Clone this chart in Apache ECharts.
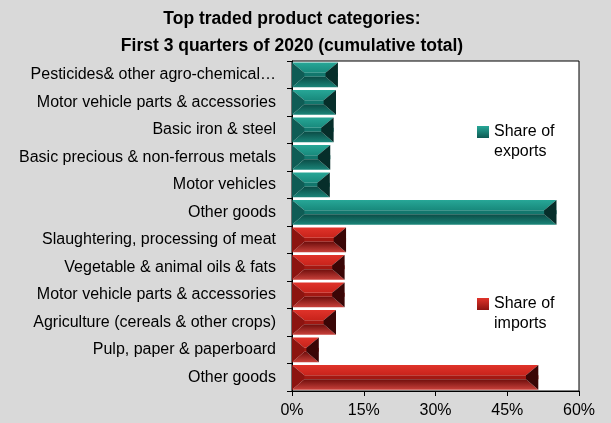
<!DOCTYPE html>
<html>
<head>
<meta charset="utf-8">
<script src="https://cdn.jsdelivr.net/npm/echarts@6/dist/echarts.min.js"></script>
<style>
  html, body { margin: 0; padding: 0; background: #d9d9d9; }
  #chart { width: 611px; height: 423px; }
</style>
</head>
<body>
<div id="chart"></div>
<script>
const categories = [
  'Pesticides& other agro-chemical…',
  'Motor vehicle parts & accessories',
  'Basic iron & steel',
  'Basic precious & non-ferrous metals',
  'Motor vehicles',
  'Other goods',
  'Slaughtering, processing of meat',
  'Vegetable & animal oils & fats',
  'Motor vehicle parts & accessories',
  'Agriculture (cereals & other crops)',
  'Pulp, paper & paperboard',
  'Other goods'
];
// first six rows are exports, last six are imports (percent share)
const exportShare = [9.6, 9.2, 8.7, 8.0, 7.9, 55.3];
const importShare = [11.3, 11.0, 11.0, 9.2, 5.6, 51.5];
const xTicks = [0, 15, 30, 45, 60];

const FONT = '"Liberation Sans", Arial, sans-serif';

const teal = { top: ['#27a797', '#18897c'], mid: '#12776d', bottom: ['#0b4c46', '#1a8478'], left: '#0f5c55', right: '#062e2a' };
const red = { top: ['#e0332a', '#c8231b'], mid: '#a31812', bottom: ['#6e0e0c', '#c8403a'], left: '#8c1410', right: '#3a0606' };

const vgrad = (a, b) => new echarts.graphic.LinearGradient(0, 0, 0, 1, [{ offset: 0, color: a }, { offset: 1, color: b }]);

// bevelled bar, built from axis coordinates
const bevelBar = (c) => (params, api) => {
  const cat = api.value(0);
  const start = api.coord([0, cat]);
  const end = api.coord([api.value(1), cat]);
  const h = api.size([0, 1])[1] * 0.9;
  const x0 = start[0], x1 = end[0];
  const y0 = start[1] - h / 2, y1 = start[1] + h / 2;
  const dy = h * 0.42;
  const dx = Math.min(h * 0.5, (x1 - x0) / 2);
  const poly = (points, fill) => ({ type: 'polygon', shape: { points }, style: { fill } });
  return {
    type: 'group',
    children: [
      poly([[x0, y0 + dy], [x1, y0 + dy], [x1, y1 - dy], [x0, y1 - dy]], c.mid),
      poly([[x0, y0], [x1, y0], [x1 - dx, y0 + dy], [x0 + dx, y0 + dy]], vgrad(c.top[0], c.top[1])),
      poly([[x0 + dx, y1 - dy], [x1 - dx, y1 - dy], [x1, y1], [x0, y1]], vgrad(c.bottom[0], c.bottom[1])),
      poly([[x0, y0], [x0 + dx, y0 + dy], [x0 + dx, y1 - dy], [x0, y1]], c.left),
      poly([[x1, y0], [x1, y1], [x1 - dx, y1 - dy], [x1 - dx, y0 + dy]], c.right)
    ]
  };
};

const chart = echarts.init(document.getElementById('chart'));

// leading blank line keeps the marker level with the first text line
const legendBase = {
  orient: 'vertical',
  left: 477,
  itemWidth: 12,
  itemHeight: 12,
  icon: 'rect',
  padding: 0,
  selectedMode: false,
  formatter: (name) => '\n' + name,
  textStyle: { fontFamily: FONT, fontSize: 16, color: '#000', lineHeight: 20 }
};

chart.setOption({
  backgroundColor: '#d9d9d9',
  animation: false,
  title: {
    text: 'Top traded product categories:\nFirst 3 quarters of 2020 (cumulative total)',
    left: 292,
    textAlign: 'center',
    top: 6,
    padding: 0,
    textStyle: { fontFamily: FONT, fontSize: 17.5, fontWeight: 'bold', color: '#000', lineHeight: 27 }
  },
  legend: [
    Object.assign({}, legendBase, { top: 102, data: [{ name: 'Share of\nexports', itemStyle: { color: vgrad('#27a797', '#0e5a53') } }] }),
    Object.assign({}, legendBase, { top: 274, data: [{ name: 'Share of\nimports', itemStyle: { color: vgrad('#e0332a', '#8c1410') } }] })
  ],
  grid: {
    left: 292, right: 32, top: 61, bottom: 32,
    show: true, backgroundColor: '#fff', borderColor: '#000', borderWidth: 1
  },
  xAxis: {
    type: 'value',
    min: xTicks[0],
    max: xTicks[xTicks.length - 1],
    interval: 15,
    axisLine: { show: true, lineStyle: { color: '#000' } },
    axisTick: { show: true, length: 5, lineStyle: { color: '#000' } },
    splitLine: { show: false },
    axisLabel: { formatter: '{value}%', fontFamily: FONT, fontSize: 16, color: '#000', margin: 12 }
  },
  yAxis: {
    type: 'category',
    inverse: true,
    data: categories,
    axisLine: { show: true, lineStyle: { color: '#000' } },
    axisTick: { show: true, length: 5, lineStyle: { color: '#000' } },
    axisLabel: { fontFamily: FONT, fontSize: 16, color: '#000', margin: 16 }
  },
  series: [
    {
      name: 'Share of\nexports',
      type: 'custom',
      renderItem: bevelBar(teal),
      itemStyle: { color: '#12776d' },
      encode: { y: 0, x: 1 },
      data: exportShare.map((v, i) => [i, v])
    },
    {
      name: 'Share of\nimports',
      type: 'custom',
      renderItem: bevelBar(red),
      itemStyle: { color: '#a31812' },
      encode: { y: 0, x: 1 },
      data: importShare.map((v, i) => [i + exportShare.length, v])
    }
  ]
});
</script>
</body>
</html>
